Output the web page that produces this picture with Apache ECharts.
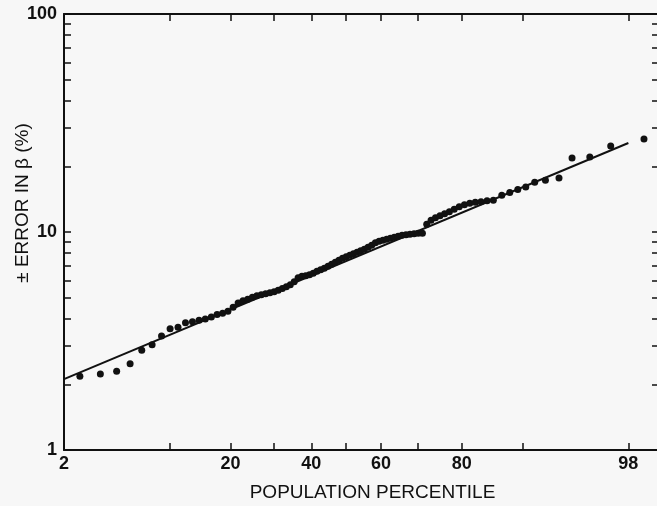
<!DOCTYPE html>
<html><head><meta charset="utf-8">
<script src="https://cdn.jsdelivr.net/npm/echarts@6/dist/echarts.min.js"></script>
<style>html,body{margin:0;padding:0;background:#f7f7f7}#c{width:657px;height:506px}</style>
</head><body><div id="c"></div>
<script>
// ---- data ----
const percentiles = [2.63,3.68,4.74,5.79,6.84,7.89,8.95,10.0,11.05,12.11,13.16,14.21,15.26,16.32,17.37,18.42,19.47,20.53,21.58,22.63,23.68,24.74,25.79,26.84,27.89,28.95,30.0,31.05,32.11,33.16,34.21,35.26,36.32,37.37,38.42,39.47,40.53,41.58,42.63,43.68,44.74,45.79,46.84,47.89,48.95,50.0,51.05,52.11,53.16,54.21,55.26,56.32,57.37,58.42,59.47,60.53,61.58,62.63,63.68,64.74,65.79,66.84,67.89,68.95,70.0,71.05,72.11,73.16,74.21,75.26,76.32,77.37,78.42,79.47,80.53,81.58,82.63,83.68,84.74,85.79,87.13,88.31,89.42,90.44,91.5,92.65,93.93,94.99,96.19,97.29,98.49];
const errorValues = [2.18,2.23,2.30,2.49,2.87,3.04,3.33,3.60,3.66,3.83,3.88,3.94,3.99,4.07,4.18,4.24,4.33,4.52,4.72,4.84,4.92,5.02,5.10,5.16,5.21,5.27,5.32,5.41,5.50,5.61,5.73,5.92,6.17,6.27,6.30,6.37,6.47,6.61,6.71,6.82,6.97,7.12,7.27,7.42,7.58,7.70,7.83,7.95,8.07,8.21,8.34,8.51,8.70,8.93,9.07,9.17,9.26,9.36,9.46,9.56,9.66,9.71,9.76,9.82,9.87,9.87,10.85,11.32,11.63,11.87,12.12,12.38,12.72,13.05,13.33,13.54,13.69,13.76,13.91,13.98,14.74,15.17,15.65,16.09,16.90,17.26,17.69,21.84,22.07,24.79,26.69];
const fitPercentiles = [2, 98];
const fitValues = [2.115, 25.6];
const xTickPercentiles = [2,10,20,30,40,50,60,70,80,90,98];
const xLabelPercentiles = [2,20,40,60,80,98];
const xMinPercentile = 2, xMaxPercentile = 98.86;
const yTickValues = [1,2,3,4,5,6,7,8,9,10,20,30,40,50,60,70,80,90,100];
const yLabelValues = [1,10,100];
const yMin = 1, yMax = 100;

// ---- probability (normal) scale transform ----
function probit(p){
  const a=[-3.969683028665376e+01,2.209460984245205e+02,-2.759285104469687e+02,1.383577518672690e+02,-3.066479806614716e+01,2.506628277459239e+00];
  const b=[-5.447609879822406e+01,1.615858368580409e+02,-1.556989798598866e+02,6.680131188771972e+01,-1.328068155288572e+01];
  const c=[-7.784894002430293e-03,-3.223964580411365e-01,-2.400758277161838e+00,-2.549732539343734e+00,4.374664141464968e+00,2.938163982698783e+00];
  const d=[7.784695709041462e-03,3.224671290700398e-01,2.445134137142996e+00,3.754408661907416e+00];
  const pl=0.02425, ph=1-pl; let q,r;
  if(p<pl){q=Math.sqrt(-2*Math.log(p));return (((((c[0]*q+c[1])*q+c[2])*q+c[3])*q+c[4])*q+c[5])/((((d[0]*q+d[1])*q+d[2])*q+d[3])*q+1);}
  if(p<=ph){q=p-0.5;r=q*q;return (((((a[0]*r+a[1])*r+a[2])*r+a[3])*r+a[4])*r+a[5])*q/(((((b[0]*r+b[1])*r+b[2])*r+b[3])*r+b[4])*r+1);}
  q=Math.sqrt(-2*Math.log(1-p));return -(((((c[0]*q+c[1])*q+c[2])*q+c[3])*q+c[4])*q+c[5])/((((d[0]*q+d[1])*q+d[2])*q+d[3])*q+1);
}
const toZ = p => probit(p/100);
const toL = v => Math.log10(v);

const font = 'Liberation Sans, Arial, Helvetica, sans-serif';
const ink = '#111111';
const xLabelFmt = z => { let best=xLabelPercentiles[0]; xLabelPercentiles.forEach(p=>{ if(Math.abs(toZ(p)-z)<Math.abs(toZ(best)-z)) best=p; }); return String(best); };
const yLabelFmt = v => String(Math.round(Math.pow(10, v)));

function xAxis(pos, labels){
  return {
    type:'value', position:pos, min:toZ(xMinPercentile), max:toZ(xMaxPercentile),
    axisLine:{show:true, onZero:false, lineStyle:{color:ink, width:2}},
    splitLine:{show:false},
    axisTick:{show:true, inside:true, length:7, customValues:xTickPercentiles.map(toZ), lineStyle:{color:ink, width:1.5}},
    axisLabel:{show:labels, customValues:xLabelPercentiles.map(toZ), formatter:xLabelFmt, fontSize:18, fontWeight:'bold', color:ink, fontFamily:font, margin:5},
    name: labels ? 'POPULATION PERCENTILE' : '',
    nameLocation:'middle', nameGap:33, nameMoveOverlap:false,
    nameTextStyle:{fontSize:19, color:ink, fontFamily:font, padding:[0,0,0,22]}
  };
}
function yAxis(pos, labels){
  return {
    type:'value', position:pos, min:toL(yMin), max:toL(yMax),
    axisLine:{show:true, onZero:false, lineStyle:{color:ink, width:2}},
    splitLine:{show:false},
    axisTick:{show:true, inside:true, length:7, customValues:yTickValues.map(toL), lineStyle:{color:ink, width:1.5}},
    axisLabel:{show:labels, customValues:yLabelValues.map(toL), formatter:yLabelFmt, fontSize:18, fontWeight:'bold', color:ink, fontFamily:font, margin:7},
    name: labels ? '± ERROR IN β (%)' : '',
    nameLocation:'middle', nameRotate:90, nameGap:32, nameMoveOverlap:false,
    nameTextStyle:{fontSize:19, color:ink, fontFamily:font, padding:[0,0,0,58]}
  };
}

const chart = echarts.init(document.getElementById('c'), null, {renderer:'canvas'});
chart.setOption({
  animation:false,
  backgroundColor:'#f7f7f7',
  grid:{left:64, top:14, width:595, height:436, containLabel:false, outerBoundsMode:'none'},
  xAxis:[xAxis('bottom', true), xAxis('top', false)],
  yAxis:[yAxis('left', true), yAxis('right', false)],
  series:[
    {type:'scatter', xAxisIndex:0, yAxisIndex:0, symbolSize:7, itemStyle:{color:ink, opacity:1},
     data:percentiles.map((p,i)=>[toZ(p), toL(errorValues[i])])},
    {type:'line', xAxisIndex:0, yAxisIndex:0, symbol:'none', lineStyle:{color:ink, width:2},
     data:fitPercentiles.map((p,i)=>[toZ(p), toL(fitValues[i])])}
  ]
});
</script></body></html>
